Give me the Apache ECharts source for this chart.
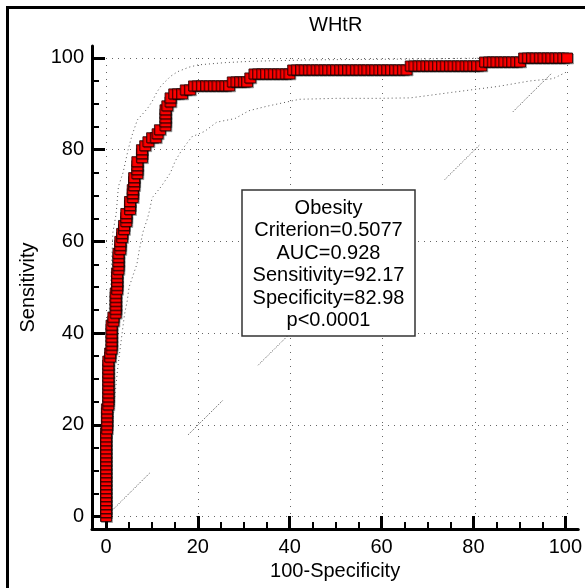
<!DOCTYPE html>
<html><head><meta charset="utf-8">
<script src="https://cdn.jsdelivr.net/npm/echarts@6/dist/echarts.min.js"></script>
<style>html,body{margin:0;padding:0;background:#fff}#c{width:585px;height:588px}</style>
</head><body><div id="c"></div>
<script>
const titleText = 'WHtR';
const xAxisName = '100-Specificity';
const yAxisName = 'Sensitivity';
const tickValues = [0, 20, 40, 60, 80, 100];
const minorTickValues = [5, 10, 15, 25, 30, 35, 45, 50, 55, 65, 70, 75, 85, 90, 95];
const infoLines = ['Obesity', 'Criterion=0.5077', 'AUC=0.928', 'Sensitivity=92.17', 'Specificity=82.98', 'p<0.0001'];

// ROC curve points [100-Specificity, Sensitivity]
const rocCurve = [
  [0,0],[0,0.87],[0,1.74],[0,2.61],[0,3.48],[0,4.35],[0,5.22],[0,6.09],[0,6.96],[0,7.83],[0,8.7],[0,9.57],[0,10.43],[0,11.3],[0,12.17],[0,13.04],[0,13.91],[0,14.78],[0,15.65],[0,16.52],[0,17.39],[0,18.26],
  [0.2,19.13],[0.2,20],[0.2,20.87],[0.2,21.74],[0.2,22.61],[0.2,23.48],
  [0.5,24.35],[0.5,25.22],[0.5,26.09],[0.5,26.96],[0.5,27.83],[0.5,28.7],[0.5,29.57],[0.5,30.43],[0.5,31.3],[0.5,32.17],[0.5,33.04],[0.5,33.91],
  [0.9,34.78],[0.9,35.65],
  [1.2,36.52],[1.2,37.39],[1.2,38.26],[1.2,39.13],[1.2,40],[1.2,40.87],[1.2,41.74],
  [1.6,42.61],[1.6,43.48],
  [2.1,44.35],[2.1,45.22],[2.1,46.09],[2.1,46.96],[2.1,47.83],[2.1,48.7],
  [2.4,49.57],[2.4,50.43],[2.4,51.3],[2.4,52.17],[2.4,53.04],
  [2.7,53.91],[2.7,54.78],[2.7,55.65],[2.7,56.52],[2.7,57.39],
  [3.1,58.26],[3.1,59.13],[3.1,60],
  [3.5,60.87],[3.5,61.74],
  [3.9,62.61],[3.9,63.48],
  [4.4,64.35],[4.4,65.22],[4.4,66.09],
  [5.2,66.96],[5.2,67.83],[5.2,68.7],
  [5.8,69.57],[5.8,70.43],[5.8,71.3],
  [6.1,72.17],[6.1,73.04],[6.1,73.91],
  [6.8,74.78],[6.8,75.65],[6.8,76.52],[6.8,77.39],
  [7.8,78.26],[7.8,79.13],[7.8,80],
  [8.5,80.87],
  [9.2,81.74],
  [10,82.61],[10.8,82.61],
  [11.2,83.48],
  [11.7,84.35],
  [12.9,85.22],[12.9,86.09],[12.9,86.96],[12.9,87.83],[12.9,88.7],
  [13.3,89.57],
  [14,90.43],[14,91.3],
  [14.8,92.17],[15.6,92.17],[16.5,92.17],
  [17.3,93.04],[18.2,93.04],
  [19.1,93.91],[19.9,93.91],[20.8,93.91],[21.7,93.91],[22.5,93.91],[23.4,93.91],[24.2,93.91],[25.1,93.91],[25.9,93.91],[26.7,93.91],
  [27.5,94.78],[28.3,94.78],[29.1,94.78],[29.9,94.78],[30.6,94.78],
  [31.3,95.65],
  [32.2,96.52],[33,96.52],[33.9,96.52],[34.7,96.52],[35.6,96.52],[36.4,96.52],[37.3,96.52],[38.1,96.52],[39,96.52],[39.8,96.52],
  [40.6,97.39],[41.4,97.39],[42.3,97.39],[43.1,97.39],[44,97.39],[44.8,97.39],[45.7,97.39],[46.5,97.39],[47.4,97.39],[48.2,97.39],
  [49.1,97.39],[49.9,97.39],[50.8,97.39],[51.6,97.39],[52.5,97.39],[53.3,97.39],[54.2,97.39],[55,97.39],[55.9,97.39],[56.7,97.39],
  [57.6,97.39],[58.4,97.39],[59.3,97.39],[60.1,97.39],[61,97.39],[61.8,97.39],[62.7,97.39],[63.5,97.39],[64.4,97.39],[65.2,97.39],
  [66.1,98.26],[66.9,98.26],[67.8,98.26],[68.6,98.26],[69.5,98.26],[70.3,98.26],[71.2,98.26],[72,98.26],[72.9,98.26],[73.7,98.26],
  [74.6,98.26],[75.4,98.26],[76.3,98.26],[77.1,98.26],[78,98.26],[78.8,98.26],[79.7,98.26],[80.5,98.26],[81.4,98.26],
  [82.2,99.13],[83.1,99.13],[83.9,99.13],[84.7,99.13],[85.6,99.13],[86.4,99.13],[87.3,99.13],[88.1,99.13],[89,99.13],[89.8,99.13],
  [90.7,100],[91.5,100],[92.4,100],[93.2,100],[94.1,100],[94.9,100],[95.8,100],[96.6,100],[97.5,100],[98.3,100],[99.2,100],[100,100]
];

// 95% confidence bounds
const upperFpr = [0, 0, 0.5, 1, 1.5, 2.2, 2.7, 3.7, 4.8, 5.6, 6.8, 9, 10, 11, 12, 14, 15.5, 18, 20, 26, 32, 45, 70, 80, 100];
const upperTpr = [0, 30, 42, 50, 62, 66, 72, 75, 80, 83, 86.5, 89, 90.5, 92.5, 94, 96, 97, 98, 98.5, 99, 99.3, 99.6, 99.8, 100, 100];
const lowerFpr = [0, 0.8, 1.3, 2, 2.5, 3, 3.5, 4, 4.6, 5, 6, 6.7, 7.2, 8, 9, 9.5, 10, 12, 14, 15, 16.5, 18.6, 21.4, 24, 28, 31, 35, 42, 50, 59, 66, 75, 85, 92, 97, 100];
const lowerTpr = [0, 10, 18, 27, 32, 36, 40, 44, 47, 50, 53, 55, 58, 62, 65, 67, 69.5, 72, 75, 77.5, 80, 82.8, 84, 86, 86.8, 88.5, 89.5, 91, 91.2, 91.2, 91.3, 92.5, 93.8, 95, 95.5, 97];

// visible pieces of the diagonal reference line (start, end)
const diagSegments = [[1.6, 9.5], [17.8, 25.4], [33, 41], [73.5, 81.1], [88.3, 96.7]];

const FONT = 'Liberation Sans, Arial, sans-serif';
const chart = echarts.init(document.getElementById('c'), null, {renderer: 'canvas'});

const series = [];
series.push({
  type: 'line', xAxisIndex: 0, yAxisIndex: 0, showSymbol: false, silent: true, z: 2,
  data: upperFpr.map((x, i) => [x, upperTpr[i]]),
  lineStyle: {color: '#555', width: 1, type: [1, 3]}
});
series.push({
  type: 'line', xAxisIndex: 0, yAxisIndex: 0, showSymbol: false, silent: true, z: 2,
  data: lowerFpr.map((x, i) => [x, lowerTpr[i]]),
  lineStyle: {color: '#555', width: 1, type: [1, 3]}
});
diagSegments.forEach(s => {
  series.push({
    type: 'line', xAxisIndex: 0, yAxisIndex: 0, showSymbol: false, silent: true, z: 2,
    data: [[s[0], s[0]], [s[1], s[1]]],
    lineStyle: {color: '#444', width: 1, type: [1, 1.5]}
  });
});
series.push({
  type: 'scatter', xAxisIndex: 0, yAxisIndex: 0, clip: false, z: 5,
  symbol: 'rect', symbolSize: [11, 10],
  data: rocCurve,
  itemStyle: {color: '#ff0000', borderColor: '#1a0000', borderWidth: 0.8, shadowColor: 'rgba(0,0,0,0.3)', shadowOffsetX: 1, shadowOffsetY: 1, shadowBlur: 0, opacity: 1}
});

const XMIN = -3.04, XMAX = 102.82, YMIN = -2.73, YMAX = 102.6;
const labelStyle = {fontSize: 20, color: '#000', fontFamily: FONT};

chart.setOption({
  animation: false,
  backgroundColor: '#fff',
  title: {text: titleText, left: 309, top: 15, padding: 0,
    textStyle: {fontSize: 20, fontWeight: 'normal', color: '#000', fontFamily: FONT}},
  grid: [
    {left: 106, right: 18, top: 58, bottom: 71.5},
    {left: 92, right: 5, top: 46, bottom: 59}
  ],
  xAxis: [
    {type: 'value', gridIndex: 0, min: 0, max: 100, interval: 20,
      axisLine: {show: false}, axisTick: {show: false}, axisLabel: {show: false},
      splitLine: {show: true, lineStyle: {color: '#666', width: 1, type: [1, 6]}}},
    {type: 'value', gridIndex: 1, min: XMIN, max: XMAX, position: 'bottom',
      name: xAxisName, nameLocation: 'middle', nameGap: 27,
      nameTextStyle: {fontSize: 20, color: '#000', fontFamily: FONT},
      axisLine: {show: true, onZero: false, lineStyle: {color: '#000', width: 3}},
      axisTick: {show: true, inside: true, length: 13, customValues: tickValues, lineStyle: {color: '#000', width: 3}},
      axisLabel: Object.assign({show: true, margin: 8, customValues: tickValues}, labelStyle),
      splitLine: {show: false}},
    {type: 'value', gridIndex: 1, min: XMIN, max: XMAX, position: 'bottom', offset: 0,
      axisLine: {show: false, onZero: false},
      axisTick: {show: true, inside: true, length: 7, customValues: minorTickValues, lineStyle: {color: '#000', width: 2}},
      axisLabel: {show: false}, splitLine: {show: false}}
  ],
  yAxis: [
    {type: 'value', gridIndex: 0, min: 0, max: 100, interval: 20,
      axisLine: {show: false}, axisTick: {show: false}, axisLabel: {show: false},
      splitLine: {show: true, lineStyle: {color: '#666', width: 1, type: [1, 5]}}},
    {type: 'value', gridIndex: 1, min: YMIN, max: YMAX, position: 'left',
      name: yAxisName, nameLocation: 'middle', nameGap: 54, nameRotate: 90,
      nameTextStyle: {fontSize: 20, color: '#000', fontFamily: FONT},
      axisLine: {show: true, onZero: false, lineStyle: {color: '#000', width: 3}},
      axisTick: {show: true, inside: true, length: 13, customValues: tickValues, lineStyle: {color: '#000', width: 3}},
      axisLabel: Object.assign({show: true, margin: 8, customValues: tickValues}, labelStyle),
      splitLine: {show: false}},
    {type: 'value', gridIndex: 1, min: YMIN, max: YMAX, position: 'left', offset: 0,
      axisLine: {show: false, onZero: false},
      axisTick: {show: true, inside: true, length: 7, customValues: minorTickValues, lineStyle: {color: '#000', width: 2}},
      axisLabel: {show: false}, splitLine: {show: false}}
  ],
  graphic: [
    {type: 'rect', z: -10, silent: true,
      shape: {x: 7.5, y: 7.5, width: 700, height: 700},
      style: {fill: 'none', stroke: '#000', lineWidth: 3}},
    {type: 'rect', z: 100, silent: true,
      shape: {x: 242, y: 190, width: 173, height: 146},
      style: {fill: '#fff', stroke: '#333', lineWidth: 1.5}},
    {type: 'text', z: 101, silent: true, x: 328.5, y: 197,
      style: {text: infoLines.join('\n'), fill: '#000', font: '20px ' + FONT,
        align: 'center', verticalAlign: 'top', lineHeight: 22.5}}
  ],
  series: series
});
</script></body></html>
